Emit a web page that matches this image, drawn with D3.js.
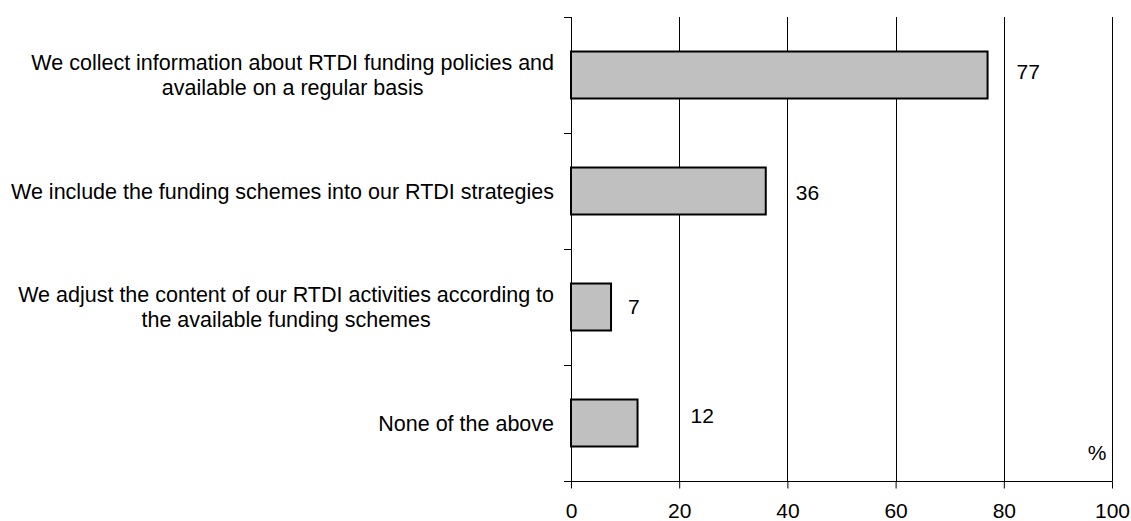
<!DOCTYPE html>
<html>
<head>
<meta charset="utf-8">
<script src="https://cdn.jsdelivr.net/npm/d3@7"></script>
<style>
  html, body { margin: 0; padding: 0; background: #fff; }
  svg { display: block; }
  text { font-family: "Liberation Sans", Arial, sans-serif; fill: #000; }
</style>
</head>
<body>
<svg id="chart" width="1131" height="521"></svg>
<script>
// ---- data ----
const categories = [
  ["We collect information about RTDI funding policies and", "available on a regular basis"],
  ["We include the funding schemes into our RTDI strategies"],
  ["We adjust the content of our RTDI activities according to", "the available funding schemes"],
  ["None of the above"]
];
const values = [77, 36, 7.4, 12.3];
const valueLabels = ["77", "36", "7", "12"];
const xTicks = [0, 20, 40, 60, 80, 100];
const unitLabel = "%";

// ---- layout (not data) ----
const labelDx = [29, 30, 17, 53];
const labelDy = [-3, 2, 0, -7];
const plotLeft = 571, plotRight = 1112, plotTop = 17, plotBottom = 481;
const fontSize = 21;
const catFontSize = 21.5;
const catRight = 554;

const svg = d3.select("#chart");
const x = d3.scaleLinear().domain([0, 100]).range([plotLeft, plotRight]);
const y = d3.scaleBand().domain(d3.range(categories.length)).range([plotTop, plotBottom])
  .paddingInner(0.595).paddingOuter(0.2975);
const yTicks = d3.scaleBand().domain(d3.range(categories.length)).range([plotTop, plotBottom]);

// gridlines
svg.append("g").selectAll("line").data(xTicks.filter(d => d > 0)).join("line")
  .attr("x1", d => Math.round(x(d)) + 0.5).attr("x2", d => Math.round(x(d)) + 0.5)
  .attr("y1", plotTop).attr("y2", plotBottom)
  .attr("stroke", "#000").attr("stroke-width", 1);

// bars
svg.append("g").selectAll("rect").data(values).join("rect")
  .attr("x", x(0))
  .attr("y", (d, i) => y(i))
  .attr("width", d => x(d) - x(0))
  .attr("height", y.bandwidth())
  .attr("fill", "#c0c0c0")
  .attr("stroke", "#000")
  .attr("stroke-width", 2);

// x axis
const xAxis = d3.axisBottom(x).tickValues(xTicks).tickSize(7).tickPadding(15)
  .tickFormat(d3.format("d"));
const gx = svg.append("g").attr("transform", `translate(0,${plotBottom + 0.5})`).call(xAxis);
gx.attr("font-family", null).attr("font-size", null);
gx.select(".domain").attr("d", `M${plotLeft - 7},0H${plotRight + 0.5}`).attr("stroke", "#000");
gx.selectAll("text").style("font-size", fontSize + "px");
gx.selectAll(".tick line").attr("stroke", "#000");

// y axis (ticks at band boundaries)
const yAxisG = svg.append("g");
yAxisG.append("line").attr("x1", plotLeft + 0.5).attr("x2", plotLeft + 0.5)
  .attr("y1", plotTop).attr("y2", plotBottom).attr("stroke", "#000");
const boundaries = d3.range(categories.length + 1).map(i => i < categories.length ? yTicks(i) : plotBottom);
yAxisG.selectAll(".yt").data(boundaries).join("line").attr("class", "yt")
  .attr("x1", plotLeft - 7).attr("x2", plotLeft)
  .attr("y1", d => Math.round(d) + 0.5).attr("y2", d => Math.round(d) + 0.5)
  .attr("stroke", "#000");

// category labels: block right-aligned, lines centred within block
const lineH = 25.5;
const catG = svg.append("g");
categories.forEach((lines, i) => {
  const cy = y(i) + y.bandwidth() / 2;
  const t = catG.append("text")
    .attr("text-anchor", "middle")
    .style("font-size", catFontSize + "px");
  const n = lines.length;
  const spans = lines.map((ln, j) => t.append("tspan")
      .attr("y", cy + (j - (n - 1) / 2) * lineH)
      .attr("dy", "0.35em")
      .text(ln));
  const maxW = d3.max(spans, s => s.node().getComputedTextLength());
  spans.forEach(s => s.attr("x", catRight - maxW / 2));
});

// value labels
svg.append("g").selectAll("text").data(values).join("text")
  .attr("x", (d, i) => x(d) + labelDx[i])
  .attr("y", (d, i) => y(i) + y.bandwidth() / 2 + labelDy[i])
  .attr("dy", "0.35em")
  .style("font-size", fontSize + "px")
  .text((d, i) => valueLabels[i]);

// unit label
svg.append("text").attr("x", 1097).attr("y", 460).attr("text-anchor", "middle")
  .style("font-size", fontSize + "px").text(unitLabel);
</script>
</body>
</html>
